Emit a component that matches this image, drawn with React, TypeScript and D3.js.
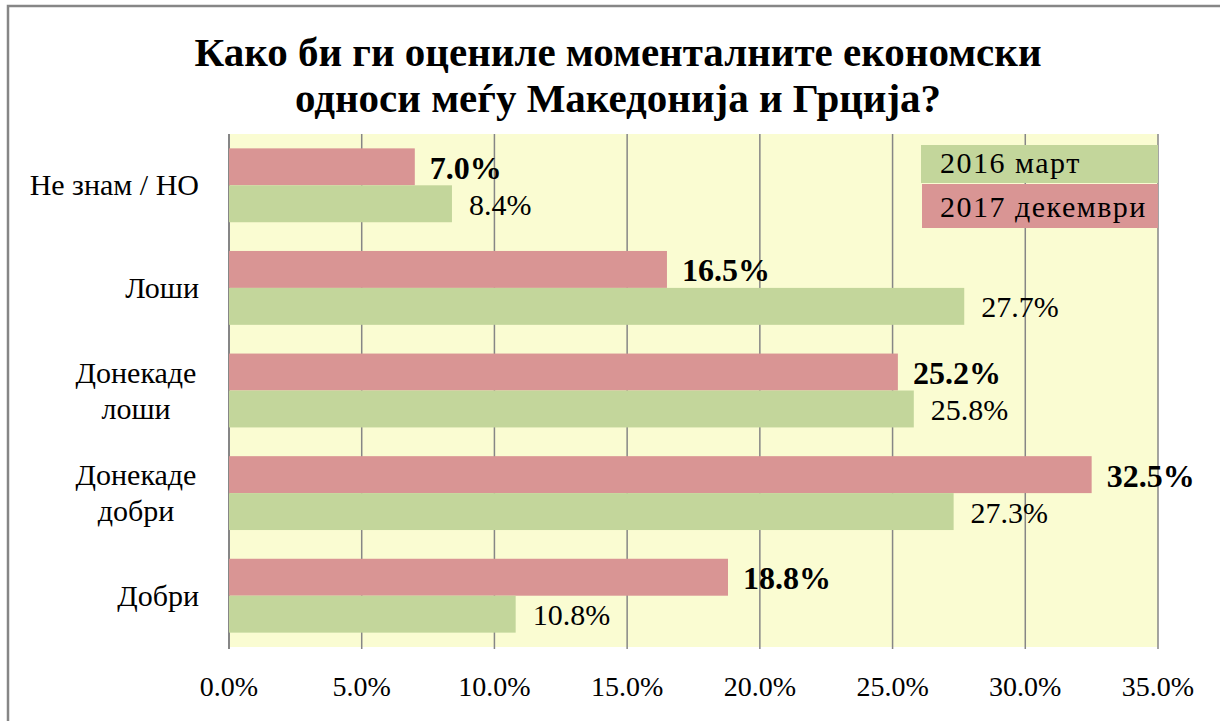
import * as d3 from 'd3';

const categories = ['Не знам / НО', 'Лоши', 'Донекаде лоши', 'Донекаде добри', 'Добри'];
const categoryLines = [['Не знам / НО'], ['Лоши'], ['Донекаде', 'лоши'], ['Донекаде', 'добри'], ['Добри']];
const values2017 = [7.0, 16.5, 25.2, 32.5, 18.8];
const values2016 = [8.4, 27.7, 25.8, 27.3, 10.8];
const seriesNames = ['2016 март', '2017 декември'];
const xTicks = [0, 5, 10, 15, 20, 25, 30, 35];
const titleLines = ['Како би ги оцениле моменталните економски', 'односи меѓу Македонија и Грција?'];

const RED = '#D99594';
const GREEN = '#C3D69B';
const BG = '#FAFCD2';
const GRID = '#868686';
const FONT = '"Liberation Serif", "Times New Roman", serif';

export default function App() {
  const width = 1220;
  const height = 721;
  const plot = { left: 229, right: 1158, top: 134, bottom: 647 };

  const x = d3.scaleLinear().domain([0, 35]).range([plot.left, plot.right]);
  const y = d3
    .scaleBand<string>()
    .domain(categories)
    .range([plot.top, plot.bottom])
    .paddingInner(0.28)
    .paddingOuter(0.14);
  const half = y.bandwidth() / 2;

  return (
    <svg
      width={width}
      height={height}
      style={{ position: 'absolute', left: 0, top: 0, background: '#fff' }}
      fontFamily={FONT}
    >
      <rect x={8} y={6} width={1240} height={740} fill="#fff" stroke={GRID} strokeWidth={2.5} />

      {titleLines.map((line, i) => (
        <text key={line} x={618} y={66 + i * 46} textAnchor="middle" fontSize={41} fontWeight="bold" fill="#000">
          {line}
        </text>
      ))}

      <rect x={plot.left} y={plot.top} width={plot.right - plot.left} height={plot.bottom - plot.top} fill={BG} />

      {xTicks.map((t) => (
        <line key={t} x1={x(t)} x2={x(t)} y1={plot.top} y2={plot.bottom + 2} stroke={GRID} strokeWidth={1.5} />
      ))}
      <line x1={plot.left} x2={plot.left} y1={plot.top} y2={plot.bottom + 2} stroke={GRID} strokeWidth={2} />

      {categories.map((c, i) => {
        const y0 = y(c) ?? 0;
        return (
          <g key={c}>
            <rect x={x(0)} y={y0} width={x(values2017[i]) - x(0)} height={half} fill={RED} />
            <rect x={x(0)} y={y0 + half} width={x(values2016[i]) - x(0)} height={half} fill={GREEN} />
            <text x={x(values2017[i]) + 15} y={y0 + half / 2 + 12} fontSize={32} fontWeight="bold" fill="#000">
              {values2017[i].toFixed(1)}%
            </text>
            <text x={x(values2016[i]) + 17} y={y0 + half * 1.5 + 11} fontSize={30} fill="#000">
              {values2016[i].toFixed(1)}%
            </text>
          </g>
        );
      })}

      {categories.map((c, i) => {
        const lines = categoryLines[i];
        const cy = (y(c) ?? 0) + y.bandwidth() / 2;
        const multi = lines.length > 1;
        const tx = multi ? 136 : 199;
        return (
          <text key={c} textAnchor={multi ? 'middle' : 'end'} fontSize={30} fill="#000">
            {lines.map((l, j) => (
              <tspan key={l} x={tx} y={cy + 10 + (j - (lines.length - 1) / 2) * 36}>
                {l}
              </tspan>
            ))}
          </text>
        );
      })}

      {xTicks.map((t) => (
        <text key={t} x={x(t)} y={696} textAnchor="middle" fontSize={28} fill="#000">
          {t.toFixed(1)}%
        </text>
      ))}

      <rect x={921} y={145} width={plot.right - 921} height={38} fill={GREEN} />
      <rect x={922} y={184} width={plot.right - 922} height={44} fill={RED} />
      <text x={940} y={173} fontSize={30} letterSpacing={1.5} fill="#000">{seriesNames[0]}</text>
      <text x={940} y={217} fontSize={30} letterSpacing={1.5} fill="#000">{seriesNames[1]}</text>
    </svg>
  );
}
